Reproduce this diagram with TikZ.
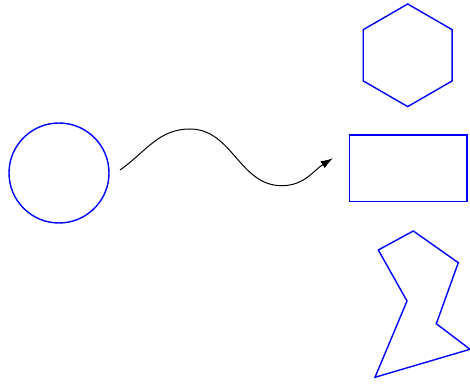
\documentclass[tikz,border=0pt]{standalone}
\usepackage{tikz}
\usetikzlibrary{arrows.meta,shapes.geometric,positioning,calc}

\begin{document}
\begin{tikzpicture}[x=1pt,y=1pt,
    outline/.style={draw=blue,line width=1.4pt,inner sep=0pt}]
        \useasboundingbox (0,0) rectangle (470,385);
        \node[outline,circle,minimum size=100pt] (circ) at (59,212) {};
        \node[outline,regular polygon,regular polygon sides=6,
          shape border rotate=30,minimum size=102.6pt] (hexa) at (407.7,329.7) {};
        \node[outline,rectangle,minimum width=117.5pt,minimum height=66.7pt] (rect) at (408.3,216.7) {};
        \coordinate (src) at ($(circ.east)+(10.3,3)$);
        \coordinate (dst) at ($(rect.west)+(-16,10)$);
        \draw[-{Latex[length=12pt,width=8pt]},line width=1pt] (src)
          to[out=35,in=180] (190,256) to[out=0,in=180] (281.7,199.3)
          to[out=0,in=212] (dst);
        \draw[blue,line width=1.4pt] (378.3,135)--(413.3,154)--(458.3,122.3)--(436.3,61.3)
          --(470,35.7)--(375,7.7)--(407,84)--cycle;
      \end{tikzpicture}
\end{document}
